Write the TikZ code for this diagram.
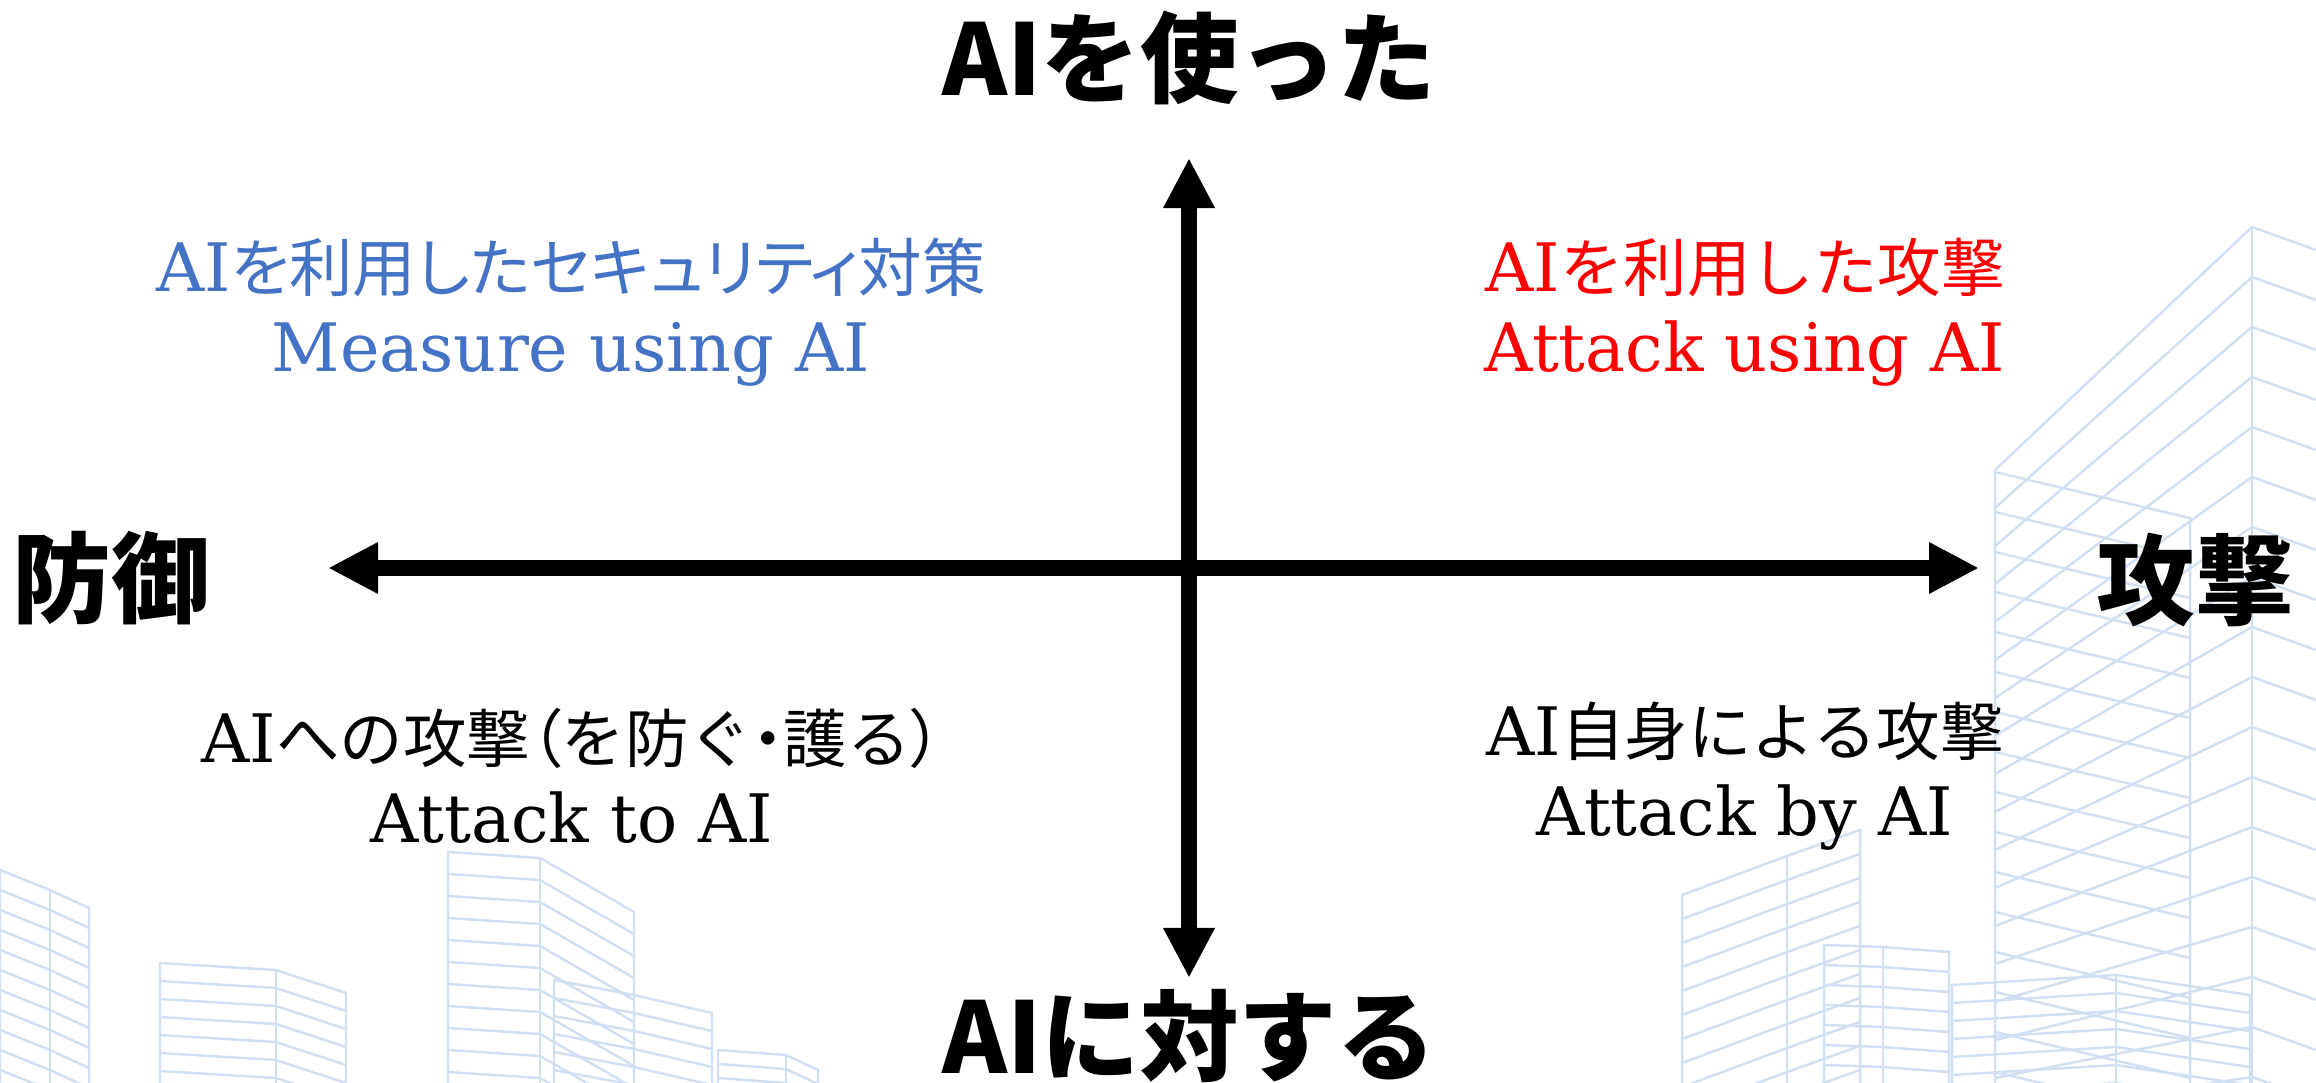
\documentclass[tikz,border=0pt]{standalone}
\usepackage{fontspec}
\setmainfont{DejaVu Serif}
\newfontfamily\jpfont{Noto Sans CJK JP}[Scale=0.95]
\newfontfamily\jpnarrow{Noto Sans CJK JP}[Scale=0.95,RawFeature=+palt]
\newfontfamily\jpgothic{Noto Sans CJK JP}
\usepackage{tikz}
\usetikzlibrary{arrows.meta}
\definecolor{measureBlue}{RGB}{68,114,196}
\definecolor{attackRed}{RGB}{255,0,0}
\definecolor{bldgBlue}{RGB}{208,223,241}

\newcommand{\jp}[1]{{\jpfont #1}}
\newcommand{\jpn}[1]{{\jpnarrow #1}}
% wireframe block: front corner, middle edge, back corner, floor gap
\newcommand{\skyblock}[7]{%
  \draw[bldg] (#1,1083) -- (#1,#2) -- (#3,#4) -- (#5,#6) -- (#5,1083);
  \draw[bldg] (#3,#4) -- (#3,1083);
  \foreach \k in {1,...,30} {
    \draw[bldg] (#1,#2+\k*#7) -- (#3,#4+\k*#7) -- (#5,#6+\k*#7);
  }%
}

\begin{document}
\begin{tikzpicture}[x=0.01cm, y=-0.01cm,
    bldg/.style={draw=bldgBlue, line width=0.7pt},
    axis/.style={line width=0.16cm,
      {Triangle[length=0.5cm,width=0.48cm]}-{Triangle[length=0.5cm,width=0.48cm]}},
    axislabel/.style={font=\jpgothic\bfseries\fontsize{28}{32}\selectfont},
    quadtext/.style={align=center, font=\fontsize{19}{22.6}\selectfont}]
  \useasboundingbox (0,0) rectangle (2316,1083);

  % skyline behind the chart
  \begin{scope}
    \clip (0,0) rectangle (2316,1083);
    % tall tower on the right
    \draw[bldg] (1995,1083) -- (1995,470) -- (2252,227) -- (2316,250);
    \draw[bldg] (2252,227) -- (2252,1083);
    \foreach \k in {1,...,17} {
      \draw[bldg] (1995,470+38*\k) -- (2252,227+50*\k) -- (2316,250+50*\k);
    }
    % lower block in front of the tower
    \draw[bldg] (1995,472) -- (2190,518) -- (2190,1083);
    \foreach \k in {1,...,15} \draw[bldg] (1995,472+40*\k) -- (2190,518+40*\k);
    % smaller blocks, right
    \skyblock{1682}{895}{1787}{856}{1860}{830}{24}
    \skyblock{1824}{945}{1883}{947}{1949}{952}{20}
    \skyblock{1952}{985}{2116}{975}{2250}{995}{18}
    % smaller blocks, left
    \skyblock{0}{870}{50}{890}{89}{908}{20}
    \skyblock{160}{963}{276}{970}{346}{993}{18}
    \skyblock{448}{852}{540}{858}{634}{912}{22}
    \skyblock{554}{980}{634}{995}{712}{1013}{18}
    \skyblock{718}{1050}{786}{1055}{818}{1070}{14}
  \end{scope}

  % axis ends
  \coordinate (north) at (1189,158);
  \coordinate (south) at (1189,978);
  \coordinate (west) at (328,568);
  \coordinate (east) at (1979,568);
  \draw[axis] (south) -- (north);
  \draw[axis] (west) -- (east);

  % axis labels
  \node[axislabel] (useLbl) at (1189,58) {AIを使った};
  \node[axislabel] (againstLbl) at (1189,1036) {AIに対する};
  \node[axislabel] (defLbl) at (111,578) {防御};
  \node[axislabel] (atkLbl) at (2195,580) {攻撃};

  % quadrants
  \node[quadtext, text=measureBlue] (measure) at (571,312)
    {AI\jpn{を利用したセキュリティ対策}\\Measure using AI};
  \node[quadtext, text=attackRed] (attackUsing) at (1745,312)
    {AI\jp{を利用した攻撃}\\Attack using AI};
  \node[quadtext] (attackTo) at (572,776)
    {AI\jp{への攻撃}\jpn{（}\jp{を防ぐ}\jpn{・}\jp{護る}\jpn{）}\\Attack to AI};
  \node[quadtext] (attackBy) at (1745,776)
    {AI\jp{自身による攻撃}\\Attack by AI};
\end{tikzpicture}
\end{document}
